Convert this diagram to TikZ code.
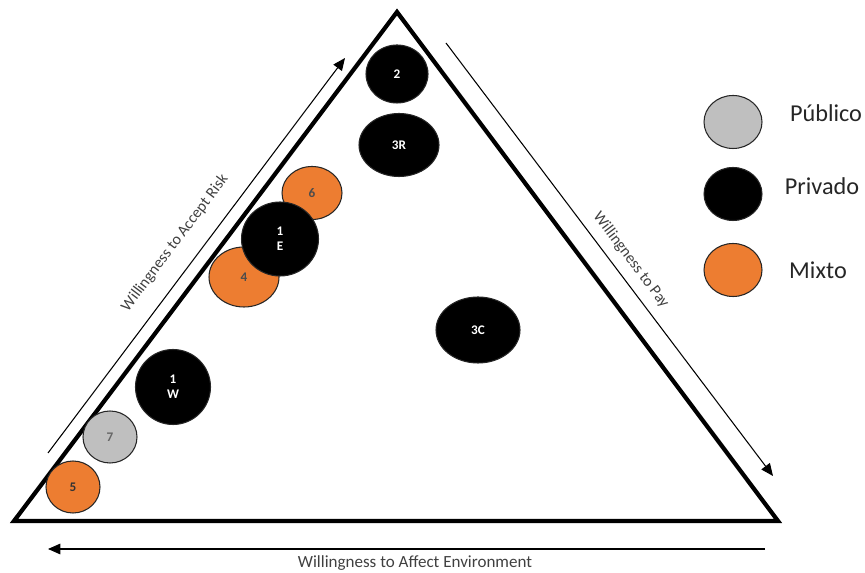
\documentclass[tikz,border=0pt]{standalone}
\usepackage{fontspec}
\setmainfont{Carlito}
\usetikzlibrary{arrows.meta,shapes.geometric}
\definecolor{mixtoOrange}{RGB}{237,125,49}
\definecolor{publicoGray}{RGB}{191,191,191}

\tikzset{
  actor/.style={ellipse, draw=black!85, line width=0.6pt, inner sep=0pt,
                font=\fontsize{7.5}{8.5}\selectfont\bfseries, align=center},
  axisarrow/.style={line width=0.6pt, -{Triangle[length=7pt,width=6pt]}},
  axislabel/.style={font=\fontsize{9}{10}\selectfont, text=black!75},
  legendlabel/.style={font=\fontsize{13.8}{16}\selectfont, text=black!85},
}

\begin{document}
\begin{tikzpicture}[x=0.02cm, y=-0.02cm]
  \useasboundingbox (0,0) rectangle (865,573);

  % Triangle
  \coordinate (apex) at (397,12);
  \coordinate (left) at (14,521);
  \coordinate (right) at (778,521);
  \draw[line width=2.4pt, line join=miter] (apex) -- (right) -- (left) -- cycle;

  % Actors (4 before 1E so it sits behind)
  \foreach \nm/\px/\py/\w/\h/\col/\txt/\lab in {
    e2/397/74/62/58/black/white/2,
    e3R/399/145/80/63/black/white/3R,
    e4/244/277/70/60/mixtoOrange/black!70/4,
    e6/312/193/60/53/mixtoOrange/black!70/6,
    e1E/280/239/77/74/black/white/{1\\E},
    e1W/173/387/75/75/black/white/{1\\W},
    e7/110/437/54/52/publicoGray/black!60/7,
    e5/73/487/54/52/mixtoOrange/black!80/5,
    e3C/478/330/84/66/black/white/3C} {
    \node[actor, fill=\col, text=\txt, minimum width=\w*0.02cm,
          minimum height=\h*0.02cm] (\nm) at (\px,\py) {\lab};
  }

  % Axis arrows
  \coordinate (riskStart) at (48,453);
  \coordinate (riskEnd) at (345,58);
  \coordinate (payStart) at (446,43);
  \coordinate (payEnd) at (773,476);
  \coordinate (envStart) at (765,549);
  \coordinate (envEnd) at (48,549);
  \draw[axisarrow] (riskStart) -- (riskEnd);
  \draw[axisarrow] (payStart) -- (payEnd);
  \draw[axisarrow] (envStart) -- (envEnd);

  \node[axislabel, rotate=53] (riskLab) at (175,243) {Willingness to Accept Risk};
  \node[axislabel, rotate=-53] (payLab) at (631,260) {Willingness to Pay};
  \node[axislabel, font=\fontsize{9.7}{11}\selectfont] (envLab) at (415,563)
    {Willingness to Affect Environment};

  % Legend
  \foreach \nm/\py/\col/\lx/\ly/\lab in {
    Pub/122/publicoGray/826/113/Público,
    Priv/194/black/822/186/Privado,
    Mix/270/mixtoOrange/818/270/Mixto} {
    \node[actor, fill=\col, minimum width=58*0.02cm,
          minimum height=53*0.02cm] (leg\nm) at (733,\py) {};
    \node[legendlabel] (lab\nm) at (\lx,\ly) {\lab};
  }
\end{tikzpicture}
\end{document}
